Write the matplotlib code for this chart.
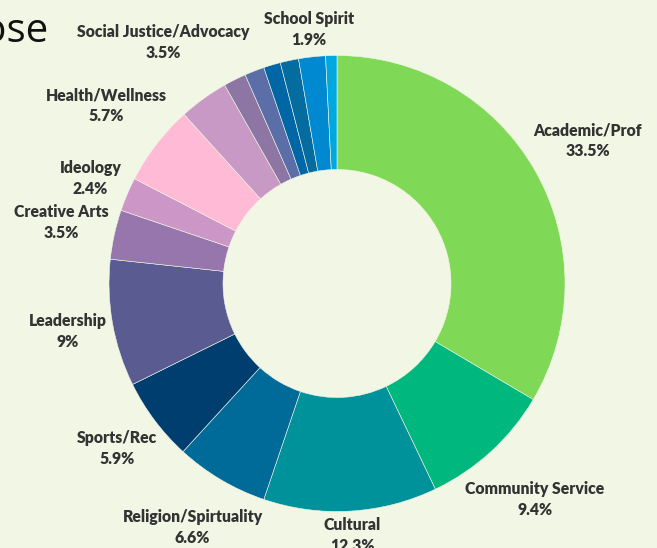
import matplotlib
matplotlib.use('Agg')
import matplotlib.pyplot as plt
import numpy as np

# club counts by purpose, share of total in percent
labels = ['Academic/Prof', 'Community Service', 'Cultural', 'Religion/Spirtuality',
          'Sports/Rec', 'Leadership', 'Creative Arts', 'Ideology', 'Health/Wellness',
          'Social Justice/Advocacy', '', '', '', '', 'School Spirit', '']
shares = [33.5, 9.4, 12.3, 6.6, 5.9, 9.0, 3.5, 2.4, 5.7, 3.5, 1.6, 1.4, 1.2, 1.3, 1.9, 0.8]
colors = ['#7fd957', '#00b87e', '#00929b', '#006a98', '#003e70', '#5a5b90', '#9676ac',
          '#cc97c6', '#ffbad6', '#c799c4', '#8d76a3', '#5c6ea8', '#0066a6', '#056ca0',
          '#0088d1', '#00a8e0']

bg = '#f2f7e5'
W, H = 657, 548
fig = plt.figure(figsize=(W / 100, H / 100), dpi=100, facecolor=bg)
ax = fig.add_axes([0, 0, 1, 1])
ax.set_facecolor(bg)

cx, cy, R = 337, H - 283.5, 228
wedges, _ = ax.pie(shares, colors=colors, startangle=90, counterclock=False,
                   radius=R, center=(cx, cy),
                   wedgeprops=dict(width=R / 2, edgecolor=bg, linewidth=0.4))
ax.set_xlim(0, W)
ax.set_ylim(0, H)
ax.set_aspect('auto')
ax.axis('off')

fig.text(48 / W, 1 - 42 / H, 'Purpose', ha='right', va='baseline',
         fontsize=29, family='Open Sans', color='#111111')

texts = []
for w, name, v in zip(wedges, labels, shares):
    if not name:
        continue
    t = ax.text(cx, cy, f'{name}\n{v:g}%', ha='center', va='center',
                multialignment='center', linespacing=1.4,
                fontsize=11.3, fontweight='heavy', family='Lato', color='#333333')
    texts.append((w, t))

fig.canvas.draw()
renderer = fig.canvas.get_renderer()
gap = 4
for w, t in texts:
    mid = np.deg2rad((w.theta1 + w.theta2) / 2)
    ux, uy = np.cos(mid), np.sin(mid)
    bb = t.get_window_extent(renderer)
    d = R + gap + bb.width / 2 * abs(ux) + bb.height / 2 * abs(uy)
    t.set_position((cx + d * ux, cy + d * uy))

plt.savefig('out.png', dpi=100, facecolor=bg)
